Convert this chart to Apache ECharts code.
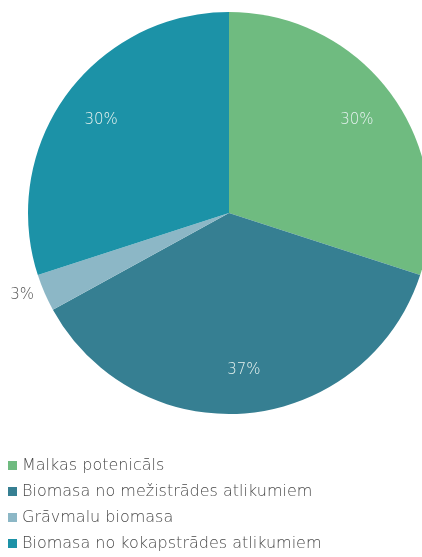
<!DOCTYPE html>
<html><head><meta charset="utf-8">
<script src="https://cdn.jsdelivr.net/npm/echarts@6/dist/echarts.min.js"></script>
<style>html,body{margin:0;padding:0;background:#fff;}#c{width:422px;height:557px;}</style>
</head><body><div id="c"></div>
<script>
const categories = ['Malkas potenicāls', 'Biomasa no mežistrādes atlikumiem', 'Grāvmalu biomasa', 'Biomasa no kokapstrādes atlikumiem'];
const values = [30, 37, 3, 30];
const colors = ['#6fbb80', '#367f92', '#8cb7c6', '#1c92a7'];

const chart = echarts.init(document.getElementById('c'), null, {renderer: 'canvas'});
const font = 'DejaVu Sans';
const mainData = categories.map((n, i) => ({
  name: n, value: values[i],
  itemStyle: {color: colors[i]},
  label: {show: i === 2}
}));
const labelData = categories.map((n, i) => ({
  name: n, value: values[i],
  label: {show: i !== 2}
}));
chart.setOption({
  animation: false,
  legend: {
    orient: 'vertical', left: 8, top: 457, height: 100, padding: 0,
    itemWidth: 9, itemHeight: 9, itemGap: 9,
    icon: 'rect', selectedMode: false,
    data: categories.map((n, i) => ({name: n, itemStyle: {color: colors[i]}})),
    textStyle: {fontFamily: font, fontSize: 16, color: '#4a4a4a', fontWeight: 200, lineHeight: 17}
  },
  series: [
    {
      type: 'pie', center: [229, 213], radius: [0, 201],
      startAngle: 90, clockwise: true, silent: true,
      data: mainData,
      label: {position: 'outside', formatter: '{c}%', fontFamily: font, fontSize: 15, fontWeight: 200, color: '#555'},
      labelLine: {show: false, length: 6, length2: 0}
    },
    {
      type: 'pie', center: [229, 213], radius: [0, 310],
      startAngle: 90, clockwise: true, silent: true,
      data: labelData,
      itemStyle: {color: 'rgba(0,0,0,0)'},
      label: {position: 'inside', formatter: '{c}%', fontFamily: font, fontSize: 15, fontWeight: 200, color: '#e6f2ef'},
      labelLine: {show: false}
    }
  ]
});
</script></body></html>
